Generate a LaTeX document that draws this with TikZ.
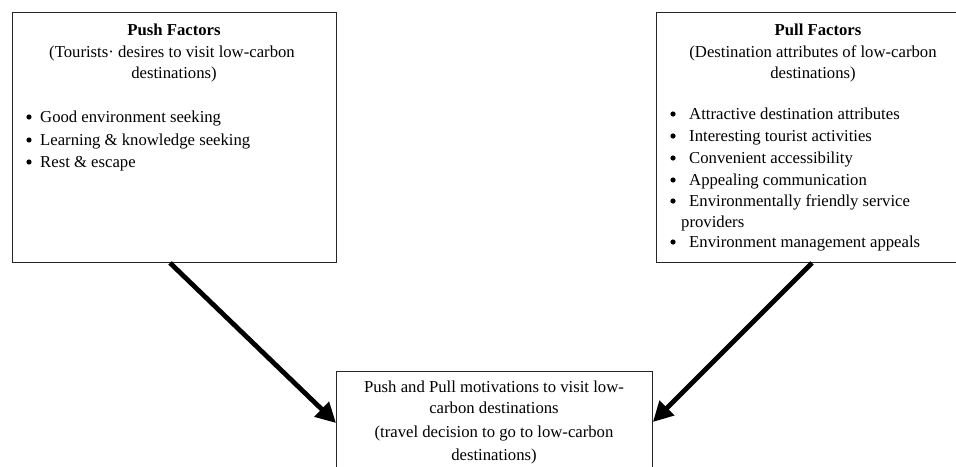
\documentclass[tikz,border=0pt]{standalone}
\usepackage{fontspec}
\setmainfont{Liberation Serif}
\usetikzlibrary{arrows.meta}
\begin{document}
\begin{tikzpicture}[x=1pt,y=-1pt,
  box/.style={draw=black!85, line width=0.9pt, inner sep=0pt, anchor=north west},
  txt/.style={inner sep=0pt, anchor=base, font=\fontsize{16.7}{20}\selectfont},
  ltxt/.style={txt, anchor=base west},
  bul/.style={circle, fill=black, inner sep=0pt, minimum size=5.2pt},
  arr/.style={line width=4.8pt, -{Triangle[length=20pt,width=20pt]}}
]
\useasboundingbox (0,0) rectangle (956,466);
\clip (0,0) rectangle (956,466);
\fill[white] (0,0) rectangle (956,466);

% boxes
\node[box, minimum width=324pt, minimum height=250pt] (push) at (12,12) {};
\node[box, minimum width=318pt, minimum height=250pt] (pull) at (656,12) {};
\node[box, minimum width=316pt, minimum height=120pt] (goal) at (336,371) {};

% push box text
\node[txt, font=\fontsize{16.7}{20}\selectfont\bfseries] (pusht) at (174,35) {Push Factors};
\node[txt] (pushs1) at (172,57) {(Tourists· desires to visit low-carbon};
\node[txt] (pushs2) at (174,78) {destinations)};
\node[bul] (pushb1) at (29,117) {};
\node[ltxt] (pushi1) at (40,122) {Good environment seeking};
\node[bul] (pushb2) at (29,140) {};
\node[ltxt] (pushi2) at (40,145) {Learning \& knowledge seeking};
\node[bul] (pushb3) at (29,162) {};
\node[ltxt] (pushi3) at (40,167) {Rest \& escape};

% pull box text
\node[txt, font=\fontsize{16.7}{20}\selectfont\bfseries] (pullt) at (818,35) {Pull Factors};
\node[txt] (pulls1) at (813,57) {(Destination attributes of low-carbon};
\node[txt] (pulls2) at (813,78) {destinations)};
\node[bul] (pullb1) at (673,114) {};
\node[ltxt] (pulli1) at (689,119) {Attractive destination attributes};
\node[bul] (pullb2) at (673,136) {};
\node[ltxt] (pulli2) at (689,141) {Interesting tourist activities};
\node[bul] (pullb3) at (673,158) {};
\node[ltxt] (pulli3) at (689,163) {Convenient accessibility};
\node[bul] (pullb4) at (673,180) {};
\node[ltxt] (pulli4) at (689,185) {Appealing communication};
\node[bul] (pullb5) at (673,201) {};
\node[ltxt] (pulli5) at (689,206) {Environmentally friendly service};
\node[ltxt] (pulli5b) at (681,227) {providers};
\node[bul] (pullb6) at (673,242) {};
\node[ltxt] (pulli6) at (689,247) {Environment management appeals};

% goal box text
\node[txt] (goal1) at (494,392) {Push and Pull motivations to visit low-};
\node[txt] (goal2) at (494,413) {carbon destinations};
\node[txt] (goal3) at (494,437) {(travel decision to go to low-carbon};
\node[txt] (goal4) at (494,460) {destinations)};

% arrows
\draw[arr] ([xshift=158pt]push.south west) -- ([yshift=-52pt]goal.north west);
\draw[arr] ([xshift=156pt]pull.south west) -- ([yshift=-51pt]goal.north east);
\end{tikzpicture}
\end{document}
